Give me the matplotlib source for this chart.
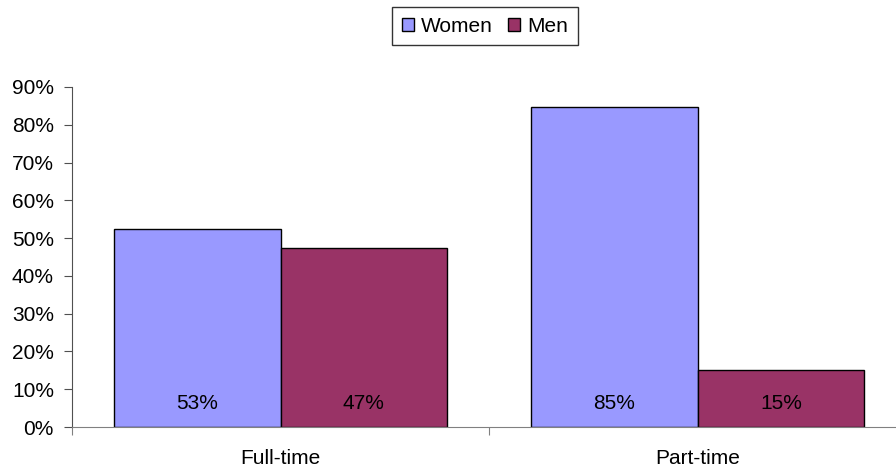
import matplotlib
matplotlib.use("Agg")
import matplotlib.pyplot as plt
import numpy as np
from matplotlib.ticker import FuncFormatter

# data
categories = ["Full-time", "Part-time"]
women = [52.4, 84.8]
men = [47.3, 15.0]
women_labels = ["53%", "85%"]
men_labels = ["47%", "15%"]
yticks = np.arange(0, 100, 10)

plt.rcParams["font.family"] = ["Liberation Sans", "DejaVu Sans"]
plt.rcParams["font.size"] = 15

fig = plt.figure(figsize=(8.96, 4.69), dpi=100)
# axes run a little past the right edge like the original
ax = fig.add_axes([72 / 896, 42 / 469, 834 / 896, 340 / 469])

x = np.arange(len(categories))
w = 0.4
ax.bar(x - w / 2, women, w, color="#9999FF", edgecolor="black", linewidth=1.0, label="Women")
ax.bar(x + w / 2, men, w, color="#993366", edgecolor="black", linewidth=1.0, label="Men")

# value labels near the bottom of each bar
for xi, lab in zip(x - w / 2, women_labels):
    ax.text(xi, 6.3, lab, ha="center", va="center")
for xi, lab in zip(x + w / 2, men_labels):
    ax.text(xi, 6.3, lab, ha="center", va="center")

ax.set_xlim(-0.5, len(categories) - 0.5)
ax.set_ylim(0, 90)
ax.set_yticks(yticks)
ax.yaxis.set_major_formatter(FuncFormatter(lambda v, p: f"{v:.0f}%"))

# category boundary ticks, labels in the middle
ax.set_xticks(np.arange(len(categories) + 1) - 0.5)
ax.set_xticklabels([])
ax.set_xticks(x, minor=True)
ax.set_xticklabels(categories, minor=True)
ax.tick_params(axis="x", which="major", direction="out", length=6, color="#808080")
ax.tick_params(axis="x", which="minor", length=0, pad=16)
ax.tick_params(axis="y", direction="out", length=6, color="#505050", pad=7)

for s in ["top", "right"]:
    ax.spines[s].set_visible(False)
ax.spines["left"].set_color("#505050")
ax.spines["bottom"].set_color("#808080")

leg = fig.legend(loc="center", bbox_to_anchor=(485 / 896, 1 - 26 / 469), ncol=2,
                 frameon=True, fancybox=False, edgecolor="black",
                 handlelength=0.6, handleheight=0.6, handletextpad=0.35,
                 columnspacing=0.7, borderpad=0.45)
leg.get_frame().set_linewidth(1.0)

fig.savefig("out.png", dpi=100)
